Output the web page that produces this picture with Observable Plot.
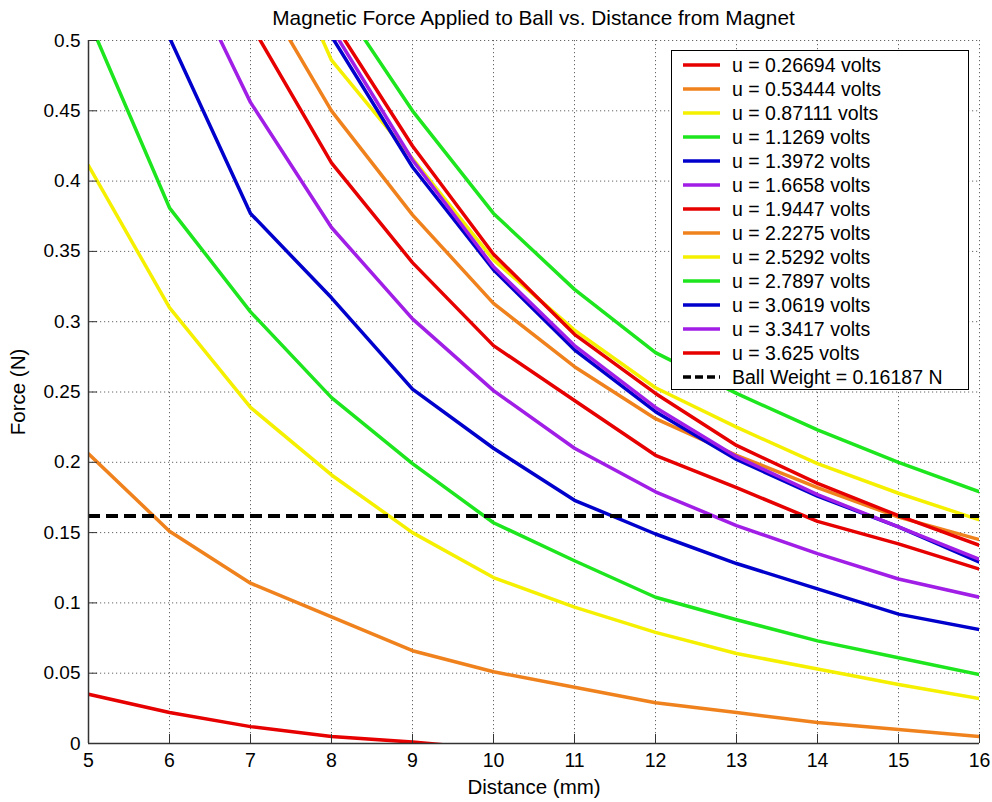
<!DOCTYPE html>
<html>
<head>
<meta charset="utf-8">
<script src="https://cdn.jsdelivr.net/npm/d3@7"></script>
<script src="https://cdn.jsdelivr.net/npm/@observablehq/plot@0.6"></script>
<style>
  body { margin: 0; background: #fff; font-family: "Liberation Sans", Arial, sans-serif; }
  #wrap { position: relative; width: 992px; height: 802px; background: #fff; }
  #title { height: 32px; line-height: 36px; text-align: center; padding-left: 88px; padding-right: 13px; font-size: 20.8px; color: #000; white-space: nowrap; }
  #legend { position: absolute; left: 671px; top: 50px; width: 298px; height: 340px; border: 1px solid #000; background: #fff; box-sizing: border-box; }
  .lg-row { position: absolute; left: 0; height: 24px; display: flex; align-items: center; font-size: 19.5px; color: #000; white-space: nowrap; }
  .lg-sw { width: 37px; margin-left: 11px; margin-right: 12px; }
  svg { display: block; }
</style>
</head>
<body>
<div id="wrap">
  <div id="title">Magnetic Force Applied to Ball vs. Distance from Magnet</div>
  <div id="chart"></div>
  <div id="legend"></div>
</div>
<script>
// ---- data ----
const distances = [5, 6, 7, 8, 9, 10, 11, 12, 13, 14, 15, 16];
const xTicks = [5, 6, 7, 8, 9, 10, 11, 12, 13, 14, 15, 16];
const yTicks = [0, 0.05, 0.1, 0.15, 0.2, 0.25, 0.3, 0.35, 0.4, 0.45, 0.5];
const xDomain = [5, 16];
const yDomain = [0, 0.5];

const voltageLabels = ["u = 0.26694 volts", "u = 0.53444 volts", "u = 0.87111 volts", "u = 1.1269 volts",
  "u = 1.3972 volts", "u = 1.6658 volts", "u = 1.9447 volts", "u = 2.2275 volts", "u = 2.5292 volts",
  "u = 2.7897 volts", "u = 3.0619 volts", "u = 3.3417 volts", "u = 3.625 volts"];
const seriesColors = ["#e60000", "#f0821e", "#f5f000", "#1ee61e", "#0000cc", "#a01ee6",
  "#e60000", "#f0821e", "#f5f000", "#1ee61e", "#0000cc", "#a01ee6", "#e60000"];

const force_u0_26694 = [0.035, 0.022, 0.012, 0.005, 0.001, -0.004, null, null, null, null, null, null];
const force_u0_53444 = [0.206, 0.151, 0.114, 0.090, 0.066, 0.051, 0.040, 0.029, 0.022, 0.015, 0.010, 0.005];
const force_u0_87111 = [0.411, 0.310, 0.239, 0.191, 0.150, 0.118, 0.097, 0.079, 0.064, 0.053, 0.042, 0.032];
const force_u1_1269  = [0.515, 0.381, 0.307, 0.246, 0.199, 0.157, 0.130, 0.104, 0.088, 0.073, 0.061, 0.049];
const force_u1_3972  = [null, 0.502, 0.377, 0.317, 0.252, 0.210, 0.173, 0.149, 0.128, 0.110, 0.092, 0.081];
const force_u1_6658  = [null, 0.575, 0.456, 0.367, 0.302, 0.251, 0.210, 0.179, 0.155, 0.135, 0.117, 0.104];
const force_u1_9447  = [null, null, 0.512, 0.413, 0.342, 0.283, 0.244, 0.205, 0.182, 0.158, 0.142, 0.124];
const force_u2_2275  = [null, null, 0.548, 0.450, 0.376, 0.313, 0.268, 0.231, 0.205, 0.182, 0.161, 0.145];
const force_u2_5292  = [null, null, 0.615, 0.486, 0.416, 0.344, 0.294, 0.253, 0.225, 0.199, 0.178, 0.159];
const force_u2_7897  = [null, null, null, 0.536, 0.450, 0.377, 0.323, 0.278, 0.249, 0.223, 0.200, 0.179];
const force_u3_0619  = [null, null, null, 0.503, 0.410, 0.337, 0.280, 0.236, 0.202, 0.176, 0.154, 0.129];
const force_u3_3417  = [null, null, null, 0.509, 0.415, 0.339, 0.283, 0.239, 0.204, 0.177, 0.154, 0.131];
const force_u3_625   = [null, null, null, 0.515, 0.425, 0.348, 0.291, 0.249, 0.212, 0.185, 0.162, 0.141];

const ballWeight = 0.16187;
const ballLabel = "Ball Weight = 0.16187 N";

const allSeries = [force_u0_26694, force_u0_53444, force_u0_87111, force_u1_1269, force_u1_3972,
  force_u1_6658, force_u1_9447, force_u2_2275, force_u2_5292, force_u2_7897, force_u3_0619,
  force_u3_3417, force_u3_625];

// ---- chart ----
const lineMarks = allSeries.map((vals, i) => {
  const rows = distances.map((d, j) => ({x: d, y: vals[j]})).filter(r => r.y != null);
  return Plot.line(rows, {x: "x", y: "y", stroke: seriesColors[i], strokeWidth: 3.5, clip: true, strokeLinejoin: "round"});
});

const fmt = d => String(+d.toFixed(2));

const chart = Plot.plot({
  width: 992,
  height: 770,
  marginTop: 8,
  marginLeft: 88,
  marginRight: 13,
  marginBottom: 59,
  style: {fontFamily: "'Liberation Sans', Arial, sans-serif", fontSize: "19px", background: "#fff", color: "#000", overflow: "visible"},
  x: {domain: xDomain, label: null},
  y: {domain: yDomain, label: null},
  marks: [
    Plot.ruleX(xTicks.slice(1), {stroke: "#666", strokeWidth: 1, strokeDasharray: "1.2,2.8"}),
    Plot.ruleY(yTicks.slice(1), {stroke: "#666", strokeWidth: 1, strokeDasharray: "1.2,2.8"}),
    ...lineMarks,
    Plot.ruleY([ballWeight], {stroke: "#000", strokeWidth: 4, strokeDasharray: "12,6"}),
    Plot.ruleX([xDomain[0]], {stroke: "#333", strokeWidth: 1.5}),
    Plot.ruleY([yDomain[0]], {stroke: "#333", strokeWidth: 1.5}),
    Plot.axisX(xTicks, {anchor: "bottom", tickSize: -9, tickPadding: 19, stroke: "#333", tickFormat: fmt,
      label: null, fontSize: 19.5}),
    Plot.axisY(yTicks, {anchor: "left", tickSize: -9, tickPadding: 17, stroke: "#333", tickFormat: fmt,
      label: null, fontSize: 19}),
    Plot.axisX({anchor: "bottom", ticks: [], label: "Distance (mm)", labelAnchor: "center", labelArrow: "none", labelOffset: 50, fontSize: 20.5}),
    Plot.axisY({anchor: "left", ticks: [], label: "Force (N)", labelAnchor: "center", labelArrow: "none", labelOffset: 78, fontSize: 20.5})
  ]
});
document.getElementById("chart").appendChild(chart);

// ---- legend ----
const legend = d3.select("#legend");
const legendItems = voltageLabels.map((t, i) => ({text: t, color: seriesColors[i], dash: null}))
  .concat([{text: ballLabel, color: "#000", dash: "8,4"}]);
legendItems.forEach((it, i) => {
  const row = legend.append("div").attr("class", "lg-row").style("top", (2 + 24 * i) + "px");
  const sw = row.append("svg").attr("class", "lg-sw").attr("width", 37).attr("height", 8);
  sw.append("line").attr("x1", 0).attr("x2", 37).attr("y1", 4).attr("y2", 4)
    .attr("stroke", it.color).attr("stroke-width", 3.5)
    .attr("stroke-dasharray", it.dash);
  row.append("span").text(it.text);
});
</script>
</body>
</html>
